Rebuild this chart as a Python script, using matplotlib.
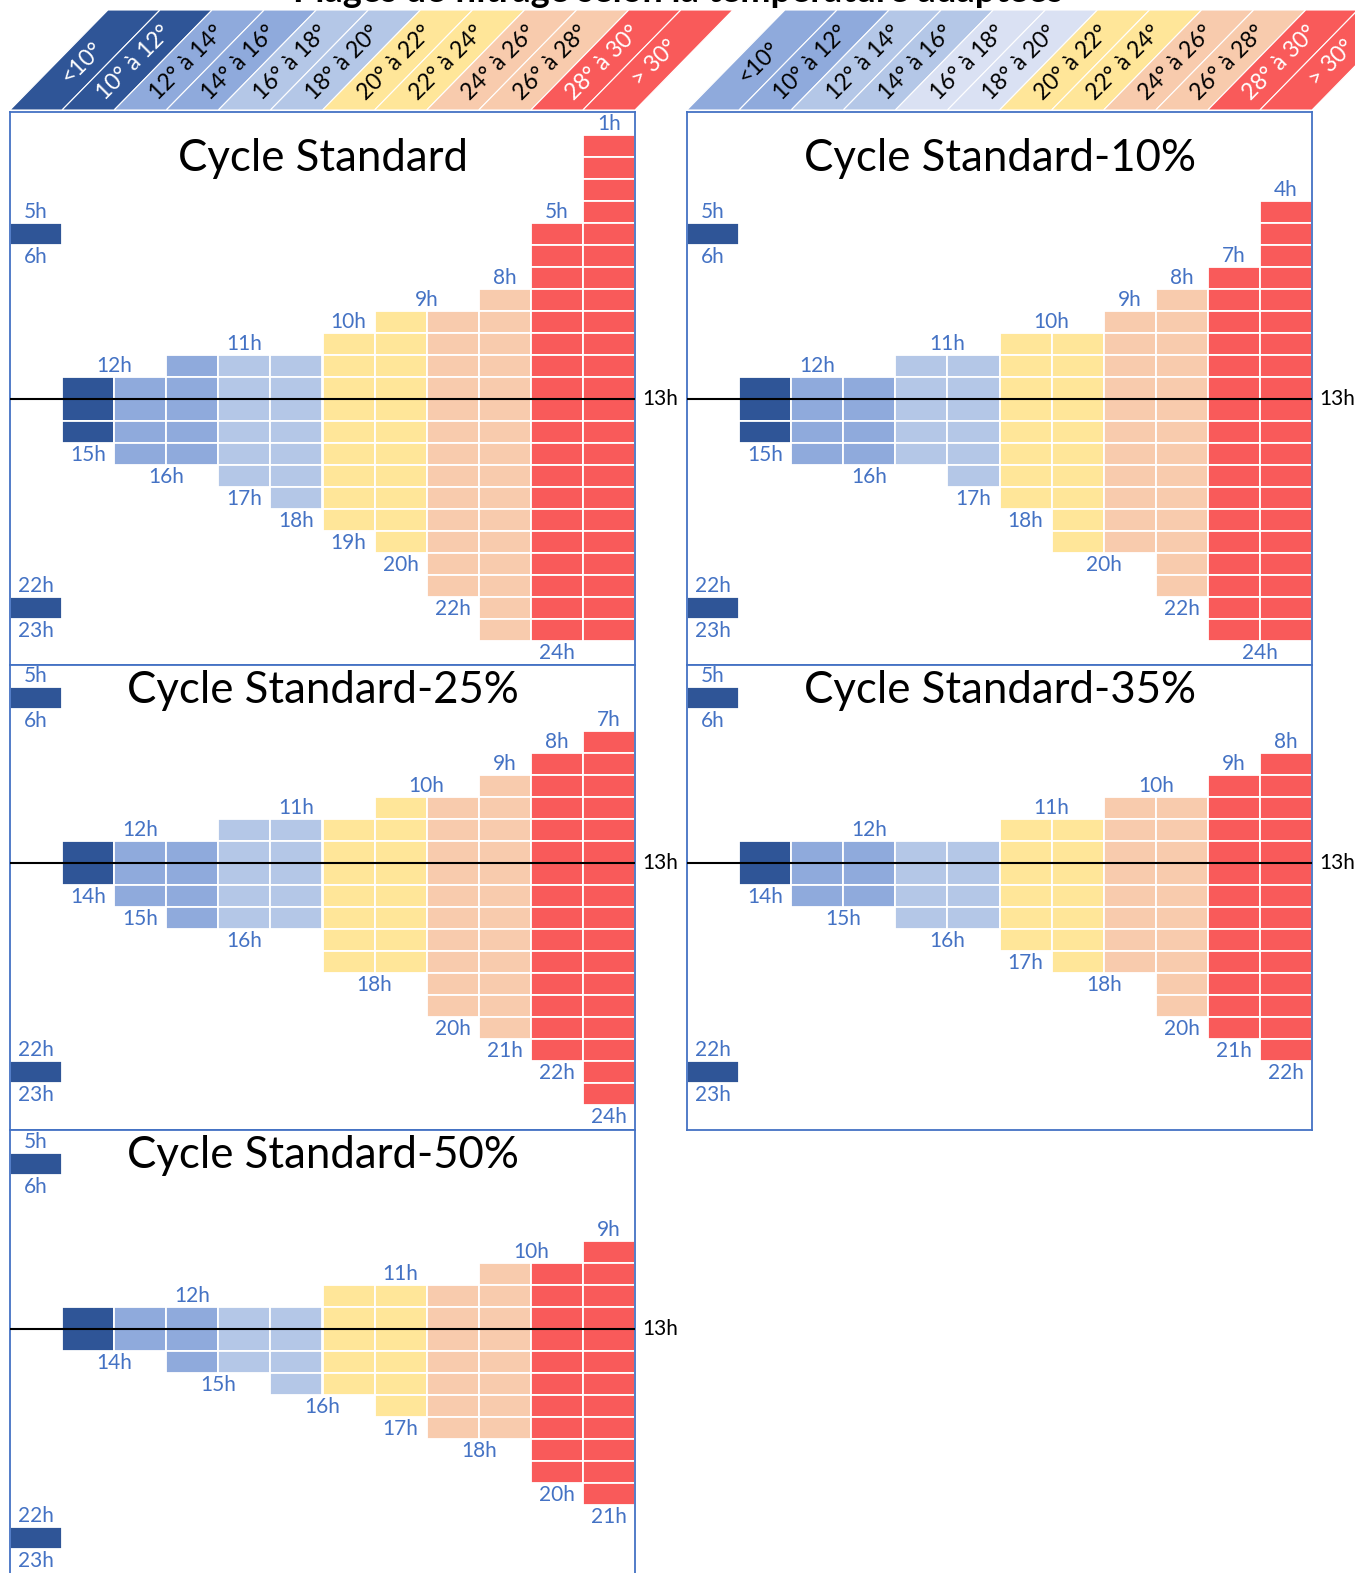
import matplotlib
matplotlib.use('Agg')
import matplotlib.pyplot as plt
from matplotlib.patches import Polygon

plt.rcParams['font.family'] = ['Lato', 'DejaVu Sans']

W, H = 1355, 1573
DPI = 100

# temperature classes (one column each)
temps = ['<10°', '10° à 12°', '12° à 14°', '14° à 16°', '16° à 18°', '18° à 20°',
         '20° à 22°', '22° à 24°', '24° à 26°', '26° à 28°', '28° à 30°', '> 30°']

DARK = '#2F5597'
MED = '#8FAADC'
LIGHT = '#B4C7E7'
PALE = '#DAE1F3'
YEL = '#FFE699'
PEACH = '#F8CBAD'
RED = '#F95A5A'
LBL = '#4472C4'

col_colors = [DARK, DARK, MED, MED, LIGHT, LIGHT, YEL, YEL, PEACH, PEACH, RED, RED]
head_left_colors = col_colors
head_right_colors = [MED, MED, LIGHT, LIGHT, PALE, PALE, YEL, YEL, PEACH, PEACH, RED, RED]
head_left_txt = ['white', 'white'] + ['black'] * 8 + ['white', 'white']
head_right_txt = ['black'] * 10 + ['white', 'white']

cycles = ['Cycle Standard', 'Cycle Standard-10%', 'Cycle Standard-25%',
          'Cycle Standard-35%', 'Cycle Standard-50%']

# "<10°" column: two one-hour runs
night_blocks = [(5, 6), (22, 23)]

# start / end hour for columns 10°à12° ... >30°
std_start = [12, 12, 11, 11, 11, 10, 9, 9, 8, 5, 1]
std_end = [15, 16, 16, 17, 18, 19, 20, 22, 24, 24, 24]
m10_start = [12, 12, 12, 11, 11, 10, 10, 9, 8, 7, 4]
m10_end = [15, 16, 16, 16, 17, 18, 20, 20, 22, 24, 24]
m25_start = [12, 12, 12, 11, 11, 11, 10, 10, 9, 8, 7]
m25_end = [14, 15, 16, 16, 16, 18, 18, 20, 21, 22, 24]
m35_start = [12, 12, 12, 12, 12, 11, 11, 10, 10, 9, 8]
m35_end = [14, 15, 15, 16, 16, 17, 18, 18, 20, 21, 22]
m50_start = [12, 12, 12, 12, 12, 11, 11, 11, 10, 10, 9]
m50_end = [14, 14, 15, 15, 16, 16, 17, 18, 18, 20, 21]

starts = [std_start, m10_start, m25_start, m35_start, m50_start]
ends = [std_end, m10_end, m25_end, m35_end, m50_end]

# layout in pixels
HOUR_PX = 22
COL_LEFT = [10, 687]
PANEL_W = 625
ROW_TOP = [112, 665, 1130]
ROW_BOT = [665, 1130, 1573]
ROW_13H = [399, 863, 1329]
TITLE_H = [2.05, 5.15, 5.1]
SHIFT = 1.88  # header slant, in columns


def px_axes(fig, left, top, w, h):
    return fig.add_axes([left / W, 1 - (top + h) / H, w / W, h / H])


def groups(vals):
    out = []
    i = 0
    while i < len(vals):
        j = i
        while j + 1 < len(vals) and vals[j + 1] == vals[i]:
            j += 1
        out.append((i, j, vals[i]))
        i = j + 1
    return out


def draw_header(fig, left, colors, txt_colors):
    ncol = len(temps)
    colw = PANEL_W / ncol
    w = (ncol + SHIFT + 0.2) * colw
    ax = px_axes(fig, left, 10, w, 100)
    ax.set_xlim(-0.5, ncol - 0.3 + SHIFT)
    ax.set_ylim(0, 1)
    ax.axis('off')
    for i, t in enumerate(temps):
        poly = Polygon([(i - 0.5, 0), (i + 0.5, 0), (i + 0.5 + SHIFT, 1), (i - 0.5 + SHIFT, 1)],
                       closed=True, facecolor=colors[i], edgecolor='white', lw=0.8)
        ax.add_patch(poly)
        ax.text(i + SHIFT / 2 - 0.05, 0.47, t, rotation=45, ha='center', va='center',
                fontsize=16.5, color=txt_colors[i], rotation_mode='anchor')


def draw_panel(fig, k):
    row, colpos = divmod(k, 2)
    top, bot, y13 = ROW_TOP[row], ROW_BOT[row], ROW_13H[row]
    left = COL_LEFT[colpos]
    ax = px_axes(fig, left, top, PANEL_W, bot - top)
    ax.set_xlim(-0.5, 11.5)
    ax.set_ylim(13 + (bot - y13) / HOUR_PX, 13 + (top - y13) / HOUR_PX)
    ax.tick_params(left=False, bottom=False, labelleft=False, labelbottom=False)
    for s in ax.spines.values():
        s.set_color(LBL)
        s.set_linewidth(1.3)
    if row == 2:
        ax.spines['bottom'].set_visible(False)

    # hourly cells
    xs, bots, cols = [], [], []
    for a, b in night_blocks:
        for h in range(a, b):
            xs.append(0)
            bots.append(h)
            cols.append(col_colors[0])
    for c, (a, b) in enumerate(zip(starts[k], ends[k]), start=1):
        for h in range(a, b):
            xs.append(c)
            bots.append(h)
            cols.append(col_colors[c])
    ax.bar(xs, [1] * len(xs), bottom=bots, width=1, color=cols,
           edgecolor='white', linewidth=1.3, zorder=2)

    ax.axhline(13, color='black', lw=1.5, zorder=3)
    ax.annotate('13h', xy=(1, 13), xycoords=('axes fraction', 'data'),
                xytext=(7, 0), textcoords='offset pixels', va='center', ha='left',
                fontsize=15, color='black', annotation_clip=False)

    # hour labels
    fs = 15
    for a, b in night_blocks:
        ax.text(0, a - 0.5, f'{a}h', ha='center', va='center', fontsize=fs, color=LBL)
        ax.text(0, b + 0.55, f'{b}h', ha='center', va='center', fontsize=fs, color=LBL)
    for i, j, v in groups(starts[k]):
        ax.text((i + j) / 2 + 1, v - 0.5, f'{v}h', ha='center', va='center',
                fontsize=fs, color=LBL, zorder=4)
    for i, j, v in groups(ends[k]):
        ax.text((i + j) / 2 + 1, v + 0.55, f'{v}h', ha='center', va='center',
                fontsize=fs, color=LBL, zorder=4)

    ax.text(5.5, TITLE_H[row], cycles[k], ha='center', va='center', fontsize=31.5,
            color='black', zorder=4)


fig = plt.figure(figsize=(W / DPI, H / DPI), dpi=DPI)
fig.patch.set_facecolor('white')

# main title, mostly above the visible area as in the source
fig.text(0.5, 1 - 2 / H, 'Plages de filtrage selon la température adaptées',
         ha='center', va='baseline', fontsize=26, fontweight='bold')

draw_header(fig, COL_LEFT[0], head_left_colors, head_left_txt)
draw_header(fig, COL_LEFT[1], head_right_colors, head_right_txt)

for k in range(len(cycles)):
    draw_panel(fig, k)

fig.savefig('out.png', dpi=DPI)
